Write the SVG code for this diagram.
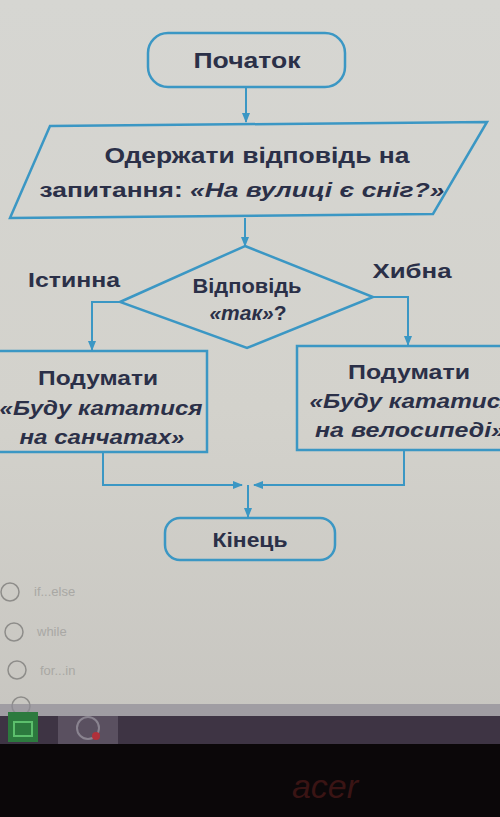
<svg xmlns="http://www.w3.org/2000/svg" width="500" height="817" viewBox="0 0 500 817">
<defs>
<linearGradient id="bg" x1="0" y1="0" x2="0" y2="1">
<stop offset="0" stop-color="#d6d6d2"/>
<stop offset="0.5" stop-color="#d3d2cc"/>
<stop offset="1" stop-color="#c4c2bd"/>
</linearGradient>
<marker id="ah" viewBox="0 0 10 10" refX="9" refY="5" markerWidth="5" markerHeight="5" orient="auto">
<path d="M0,1 L10,5 L0,9 z" fill="#3b97c4"/>
</marker>
<style>
.sh{fill:none;stroke:#3b97c4;stroke-width:2.5}
.cn{fill:none;stroke:#3b97c4;stroke-width:2}
.t{font-family:"Liberation Sans",Arial,sans-serif;font-weight:bold;fill:#2b3048;text-anchor:middle}
.i{font-style:italic}
.opt{font-family:"Liberation Sans",Arial,sans-serif;font-size:13px;fill:#a9a8a4}
.rc{fill:none;stroke:#8e8d8a;stroke-width:1.5}
</style>
</defs>
<rect x="0" y="0" width="500" height="817" fill="url(#bg)"/>

<g id="start">
<rect class="sh" x="148" y="33" width="197" height="54" rx="20"/>
<text class="t" x="247" y="68" font-size="22" textLength="107" lengthAdjust="spacingAndGlyphs">Початок</text>
</g>

<g id="input">
<polygon class="sh" points="50,126 487,122 433,214 10,218"/>
<text class="t" x="257" y="163" font-size="22" textLength="305" lengthAdjust="spacingAndGlyphs">Одержати відповідь на</text>
<text class="t" x="242" y="197" font-size="21" textLength="405" lengthAdjust="spacingAndGlyphs">запитання: <tspan class="i">«На вулиці є сніг?»</tspan></text>
</g>

<g id="decision">
<polygon class="sh" points="245,246 373,297 247,348 120,302"/>
<text class="t" x="247" y="293" font-size="20" textLength="109" lengthAdjust="spacingAndGlyphs">Відповідь</text>
<text class="t" x="248" y="320" font-size="21"><tspan class="i">«так»</tspan>?</text>
</g>

<g id="label-true"><text class="t" x="74" y="287" font-size="20" textLength="92" lengthAdjust="spacingAndGlyphs">Істинна</text></g>
<g id="label-false"><text class="t" x="412" y="278" font-size="20" textLength="79" lengthAdjust="spacingAndGlyphs">Хибна</text></g>

<g id="left-box">
<rect class="sh" x="-3" y="351" width="210" height="101"/>
<text class="t" x="98" y="385" font-size="21" textLength="120" lengthAdjust="spacingAndGlyphs">Подумати</text>
<text class="t i" x="101" y="415" font-size="21" textLength="203" lengthAdjust="spacingAndGlyphs">«Буду кататися</text>
<text class="t i" x="102" y="444" font-size="21" textLength="165" lengthAdjust="spacingAndGlyphs">на санчатах»</text>
</g>

<g id="right-box">
<rect class="sh" x="297" y="346" width="210" height="104"/>
<text class="t" x="409" y="379" font-size="21" textLength="122" lengthAdjust="spacingAndGlyphs">Подумати</text>
<text class="t i" x="412" y="408" font-size="21" textLength="205" lengthAdjust="spacingAndGlyphs">«Буду кататися</text>
<text class="t i" x="410" y="437" font-size="21" textLength="190" lengthAdjust="spacingAndGlyphs">на велосипеді»</text>
</g>

<g id="end">
<rect class="sh" x="165" y="518" width="170" height="42" rx="15"/>
<text class="t" x="250" y="547" font-size="20" textLength="75" lengthAdjust="spacingAndGlyphs">Кінець</text>
</g>

<g id="connectors">
<line class="cn" x1="246" y1="87" x2="246" y2="122" marker-end="url(#ah)"/>
<line class="cn" x1="245" y1="218" x2="245" y2="246" marker-end="url(#ah)"/>
<polyline class="cn" points="120,302 92,302 92,350" marker-end="url(#ah)"/>
<polyline class="cn" points="373,297 408,297 408,345" marker-end="url(#ah)"/>
<polyline class="cn" points="103,452 103,485 242,485" marker-end="url(#ah)"/>
<polyline class="cn" points="404,450 404,485 254,485" marker-end="url(#ah)"/>
<line class="cn" x1="248" y1="485" x2="248" y2="517" marker-end="url(#ah)"/>
</g>

<g id="options">
<circle class="rc" cx="10" cy="592" r="9"/>
<text class="opt" x="34" y="596">if...else</text>
<circle class="rc" cx="14" cy="632" r="9"/>
<text class="opt" x="37" y="636">while</text>
<circle class="rc" cx="17" cy="670" r="9"/>
<text class="opt" x="40" y="675">for...in</text>
<circle class="rc" cx="21" cy="706" r="9"/>
</g>

<rect x="0" y="704" width="500" height="12" fill="#8f8b96" opacity="0.7"/>
<rect x="0" y="716" width="500" height="28" fill="#3e3444"/>
<rect x="8" y="712" width="30" height="30" fill="#2c7a3e"/>
<rect x="14" y="722" width="18" height="14" fill="none" stroke="#5cbf6c" stroke-width="2"/>
<rect x="58" y="716" width="60" height="28" fill="#5a5060"/>
<circle cx="88" cy="728" r="11" fill="none" stroke="#8a8490" stroke-width="2"/>
<circle cx="96" cy="736" r="4" fill="#b0303a"/>
<rect x="0" y="744" width="500" height="73" fill="#0b0709"/>
<text x="325" y="798" font-family="'Liberation Sans',Arial,sans-serif" font-size="34" font-style="italic" fill="#3a1414" text-anchor="middle">acer</text>
</svg>
